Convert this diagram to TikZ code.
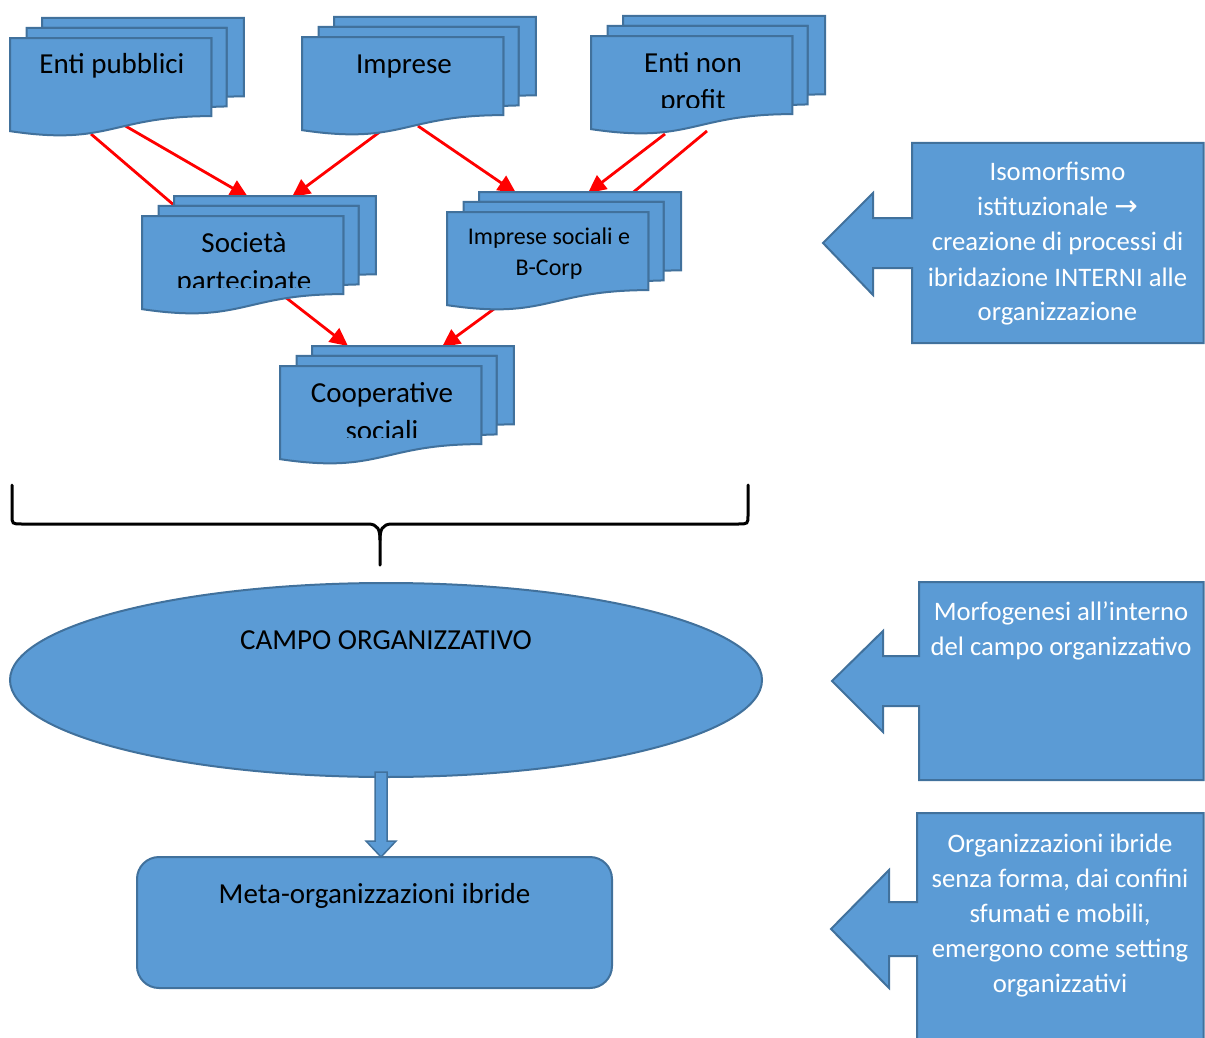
\documentclass[tikz,border=0pt]{standalone}
\usepackage{fontspec}
\setmainfont{Carlito}
\newfontfamily\symfont{DejaVu Sans}
\usetikzlibrary{arrows.meta,shapes.geometric}
\definecolor{ofill}{RGB}{91,155,213}
\definecolor{oline}{RGB}{65,113,156}
\tikzset{
  shp/.style={fill=ofill, draw=oline, line width=2pt, line join=miter},
  redarr/.style={draw=red, line width=2.8pt, -{Triangle[length=18pt,width=17pt]}},
  redln/.style={draw=red, line width=2.8pt},
  bigtxt/.style={anchor=base, inner sep=0pt, font=\fontsize{29}{37.5}\selectfont},
  smalltxt/.style={anchor=base, inner sep=0pt, font=\fontsize{24}{31}\selectfont},
  calltxt/.style={anchor=base, inner sep=0pt, text=white, font=\fontsize{26.7}{35}\selectfont},
  bracestyle/.style={draw=black, line width=3pt, line cap=round},
}
\setlength{\tabcolsep}{0pt}
% multidocument: x, y, name, baseline offset, text style, text
\newcommand\mdoc[6]{%
  \begin{scope}[shift={(#1,#2)}]
    \begin{scope}[x=1.0833pt,y=-0.5444pt]
      \path[shp] (29.72,18.15) -- (29.72,0) -- (216,0) -- (216,143.92)
        .. controls (208,143.92) and (200,144.67) .. (200,144.67) -- (200,18.15) -- cycle;
      \path[shp] (15.32,36.75) -- (15.32,18.15) -- (200,18.15) -- (200,162.52)
        .. controls (192.98,162.52) and (185.95,163.52) .. (185.95,163.52) -- (185.95,36.75) -- cycle;
      \path[shp] (0,207.82) .. controls (92.98,235.42) and (92.98,180.22) .. (185.95,180.22)
        -- (185.95,36.75) -- (0,36.75) -- cycle;
    \end{scope}
    \node[inner sep=0pt, minimum width=201.4pt, minimum height=71.5pt] (#3) at (100.7,55.75) {};
    \begin{scope}
      \clip (0,20) rectangle (201.4,91.5);
      \node[#5] (#3-t) at (102,#4) {\begin{tabular}[t]{c}#6\end{tabular}};
    \end{scope}
  \end{scope}}
\begin{document}
\begin{tikzpicture}[x=1pt,y=-1pt]
\useasboundingbox (0,0) rectangle (1205,1038);

% connector end points
\coordinate (r1s) at (91,134);   \coordinate (r1e) at (182,212);
\coordinate (r2s) at (122,124);  \coordinate (r2e) at (248,197);
\coordinate (r3s) at (381,131);  \coordinate (r3e) at (292,197);
\coordinate (r4s) at (418,126);  \coordinate (r4e) at (516,193);
\coordinate (r5s) at (665,134);  \coordinate (r5e) at (588,193);
\coordinate (r6s) at (707,131);  \coordinate (r6e) at (624,200);
\coordinate (r7s) at (280,293);  \coordinate (r7e) at (348,346);
\coordinate (r8s) at (498,306);  \coordinate (r8e) at (442,347);

\draw[redln]  (r1s) -- (r1e);
\draw[redarr] (r2s) -- (r2e);
\draw[redarr] (r3s) -- (r3e);
\draw[redarr] (r4s) -- (r4e);
\draw[redarr] (r5s) -- (r5e);
\draw[redln]  (r6s) -- (r6e);
\draw[redarr] (r7s) -- (r7e);
\draw[redarr] (r8s) -- (r8e);

% multidocuments
\mdoc{10}{18}{ep}{55.5}{bigtxt}{Enti pubblici}
\mdoc{302}{17}{imp}{56.5}{bigtxt}{Imprese}
\mdoc{591}{16}{enp}{56.5}{bigtxt}{Enti non\\profit}
\mdoc{142}{196}{soc}{56.5}{bigtxt}{Società\\partecipate}
\mdoc{447}{192}{isb}{52}{smalltxt}{Imprese sociali e\\B-Corp}
\mdoc{280}{346}{coop}{56.5}{bigtxt}{Cooperative\\sociali}

% brace
\draw[bracestyle] (12,485) -- (12,515) .. controls (12,524) .. (22,524) -- (368,524)
  .. controls (378,524) and (380,530) .. (380,540) -- (380,565);
\draw[bracestyle] (380,540) .. controls (380,530) and (382,524) .. (392,524) -- (738,524)
  .. controls (748,524) .. (748,515) -- (748,485);

% campo organizzativo
\node[shp, ellipse, inner sep=0pt, minimum width=752pt, minimum height=194pt] (campo) at (386,680) {};
\node[bigtxt] (campo-t) at (386,649) {CAMPO ORGANIZZATIVO};

% meta-organizzazioni
\node[shp, rectangle, rounded corners=22pt, inner sep=0pt, minimum width=475pt, minimum height=131pt] (meta) at (374.5,922.5) {};
\node[bigtxt] (meta-t) at (374.5,903) {Meta-organizzazioni ibride};

% block arrow down
\path[shp, line width=1.5pt] (375,772) -- (387,772) -- (387,841) -- (396,841) -- (381,857)
  -- (366,841) -- (375,841) -- cycle;

% callouts
\path[shp] (912,143) -- (1203.5,143) -- (1203.5,343) -- (912,343) -- (912,268) -- (873,268)
  -- (873,295) -- (823,243) -- (873,193) -- (873,218) -- (912,218) -- cycle;
\node[calltxt] (c1) at (1057.5,181) {\begin{tabular}[t]{c}Isomorfismo\\istituzionale {\symfont\fontsize{28}{35}\selectfont →}\\creazione di processi di\\ibridazione INTERNI alle\\organizzazione\end{tabular}};

\path[shp] (919,582) -- (1203.5,582) -- (1203.5,780) -- (919,780) -- (919,706) -- (883,706)
  -- (883,732) -- (832,681) -- (883,631) -- (883,656) -- (919,656) -- cycle;
\node[calltxt] (c2) at (1061,620) {\begin{tabular}[t]{c}Morfogenesi all’interno\\del campo organizzativo\end{tabular}};

\path[shp] (917,813) -- (1203.5,813) -- (1203.5,1050) -- (917,1050) -- (917,956) -- (889,956)
  -- (889,988) -- (831,929) -- (889,870) -- (889,902) -- (917,902) -- cycle;
\node[calltxt] (c3) at (1060,852) {\begin{tabular}[t]{c}Organizzazioni ibride\\senza forma, dai confini\\sfumati e mobili,\\emergono come setting\\organizzativi\end{tabular}};
\end{tikzpicture}
\end{document}
